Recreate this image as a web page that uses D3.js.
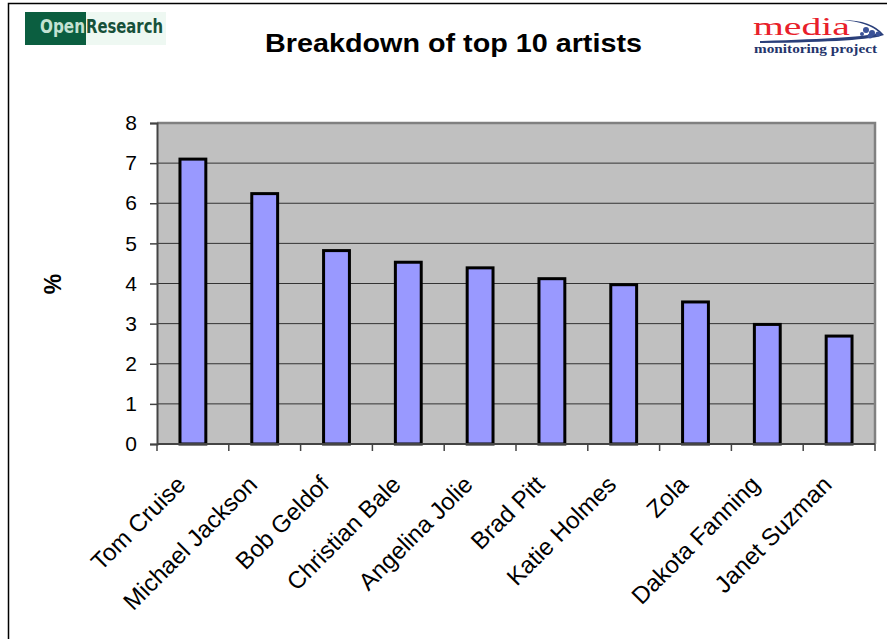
<!DOCTYPE html>
<html>
<head>
<meta charset="utf-8">
<script src="https://cdn.jsdelivr.net/npm/d3@7"></script>
<style>
  body { margin: 0; background: #fff; }
  svg { display: block; font-family: Arial, "Liberation Sans", sans-serif; }
</style>
</head>
<body>
<div id="chart"></div>
<script>
// chart data
var artists = ["Tom Cruise", "Michael Jackson", "Bob Geldof", "Christian Bale", "Angelina Jolie",
               "Brad Pitt", "Katie Holmes", "Zola", "Dakota Fanning", "Janet Suzman"];
var percents = [7.1, 6.24, 4.82, 4.53, 4.39, 4.12, 3.97, 3.54, 2.98, 2.69];
var yTicks = [0, 1, 2, 3, 4, 5, 6, 7, 8];

var width = 887, height = 639;
var margin = {top: 123, right: 12, bottom: 195, left: 157};

var svg = d3.select("#chart")
            .append("svg")
            .attr("width", width)
            .attr("height", height);

// outer frame
svg.append("path")
   .attr("d", "M8.5," + height + "V3.5H" + width)
   .attr("fill", "none")
   .attr("stroke", "#000")
   .attr("stroke-width", 1.5);

// title
svg.append("text")
   .attr("x", 265)
   .attr("y", 52)
   .attr("textLength", 377)
   .attr("lengthAdjust", "spacingAndGlyphs")
   .style("font-size", "25px")
   .style("font-weight", "bold")
   .text("Breakdown of top 10 artists");

// OpenResearch logo
var logo1 = svg.append("g");
logo1.append("rect").attr("x", 86).attr("y", 12).attr("width", 80).attr("height", 33).attr("fill", "#eef8f2");
logo1.append("rect").attr("x", 25).attr("y", 12).attr("width", 61).attr("height", 33).attr("fill", "#0b5e40");
logo1.append("text").attr("x", 40).attr("y", 33)
     .attr("textLength", 45).attr("lengthAdjust", "spacingAndGlyphs")
     .style("font-family", "'Liberation Sans Narrow', 'DejaVu Sans Condensed', sans-serif")
     .style("font-weight", "bold").style("font-size", "19px").attr("fill", "#c4e2d3")
     .text("Open");
logo1.append("text").attr("x", 86).attr("y", 33)
     .attr("textLength", 77).attr("lengthAdjust", "spacingAndGlyphs")
     .style("font-family", "'Liberation Sans Narrow', 'DejaVu Sans Condensed', sans-serif")
     .style("font-weight", "bold").style("font-size", "19px").attr("fill", "#17503a")
     .text("Research");

// media monitoring project logo
var logo2 = svg.append("g");
logo2.append("text").attr("x", 753).attr("y", 35)
     .attr("textLength", 97).attr("lengthAdjust", "spacingAndGlyphs")
     .style("font-family", "'Liberation Serif', 'DejaVu Serif', serif")
     .style("font-size", "25px").attr("fill", "#e8202a")
     .text("media");
logo2.append("path")
     .attr("d", "M842,20 Q868,22 880,33 Q862,38 760,41 L760,43 Q866,42 884,35 Q872,20 842,20 Z")
     .attr("fill", "#2a3f7a");
[[866, 30, 3], [872, 33, 3], [878, 34, 2.5], [870, 36, 2.5], [862, 34, 2]].forEach(function(d) {
  logo2.append("circle").attr("cx", d[0]).attr("cy", d[1]).attr("r", d[2]).attr("fill", "#3b5298");
});
logo2.append("text").attr("x", 754).attr("y", 53)
     .attr("textLength", 123).attr("lengthAdjust", "spacingAndGlyphs")
     .style("font-family", "'Liberation Serif', 'DejaVu Serif', serif")
     .style("font-weight", "bold").style("font-size", "12px").attr("fill", "#24346b")
     .text("monitoring project");

// plot
var plotW = width - margin.left - margin.right,
    plotH = height - margin.top - margin.bottom;

var x = d3.scaleBand()
          .domain(artists)
          .range([margin.left, margin.left + plotW])
          .padding(0);

var y = d3.scaleLinear()
          .domain([0, 8])
          .range([margin.top + plotH, margin.top]);

svg.append("rect")
   .attr("x", margin.left)
   .attr("y", margin.top)
   .attr("width", plotW)
   .attr("height", plotH)
   .attr("fill", "#c0c0c0");

// gridlines
svg.append("g")
   .selectAll("line")
   .data(yTicks.slice(1, -1))
   .enter().append("line")
   .attr("x1", margin.left).attr("x2", margin.left + plotW)
   .attr("y1", function(d) { return y(d); })
   .attr("y2", function(d) { return y(d); })
   .attr("stroke", "#333")
   .attr("stroke-width", 1);

// plot area border (top / right)
svg.append("path")
   .attr("d", "M" + margin.left + "," + margin.top + "H" + (margin.left + plotW) + "V" + (margin.top + plotH))
   .attr("fill", "none")
   .attr("stroke", "#808080")
   .attr("stroke-width", 2.5);

// bars
var barW = x.bandwidth() * 0.36;
svg.append("g")
   .selectAll("rect")
   .data(artists)
   .enter().append("rect")
   .attr("x", function(d) { return x(d) + x.bandwidth() / 2 - barW / 2; })
   .attr("y", function(d, i) { return y(percents[i]); })
   .attr("width", barW)
   .attr("height", function(d, i) { return y(0) - y(percents[i]); })
   .attr("fill", "#9999ff")
   .attr("stroke", "#000")
   .attr("stroke-width", 3);

// y axis
var yAxis = svg.append("g")
   .attr("transform", "translate(" + margin.left + ",0)")
   .call(d3.axisLeft(y).tickValues(yTicks).tickSize(7).tickPadding(13).tickFormat(d3.format("d")));
yAxis.select(".domain").attr("stroke", "#444").attr("stroke-width", 2);
yAxis.selectAll(".tick line").attr("stroke", "#444").attr("stroke-width", 1.5);
yAxis.selectAll("text").style("font-size", "21px").attr("fill", "#000").style("font-family", "Arial, 'Liberation Sans', sans-serif");

// x axis
var xAxis = svg.append("g")
   .attr("transform", "translate(0," + y(0) + ")");
xAxis.append("line")
   .attr("x1", margin.left).attr("x2", margin.left + plotW)
   .attr("stroke", "#444").attr("stroke-width", 2);
xAxis.selectAll(".xtick")
   .data(artists.concat(["end"]))
   .enter().append("line")
   .attr("class", "xtick")
   .attr("x1", function(d, i) { return i < artists.length ? x(d) : margin.left + plotW; })
   .attr("x2", function(d, i) { return i < artists.length ? x(d) : margin.left + plotW; })
   .attr("y1", 0).attr("y2", 7)
   .attr("stroke", "#444").attr("stroke-width", 1.5);
xAxis.selectAll(".xlabel")
   .data(artists)
   .enter().append("text")
   .attr("class", "xlabel")
   .attr("text-anchor", "end")
   .attr("transform", function(d) {
     return "translate(" + (x(d) + x.bandwidth() / 2 - 6) + "," + 42 + ") rotate(-45)";
   })
   .style("font-size", "24px")
   .text(function(d) { return d; });

// y label
svg.append("text")
   .attr("transform", "translate(61,284) rotate(-90)")
   .attr("text-anchor", "middle")
   .style("font-size", "23px")
   .style("font-weight", "bold")
   .text("%");
</script>
</body>
</html>
